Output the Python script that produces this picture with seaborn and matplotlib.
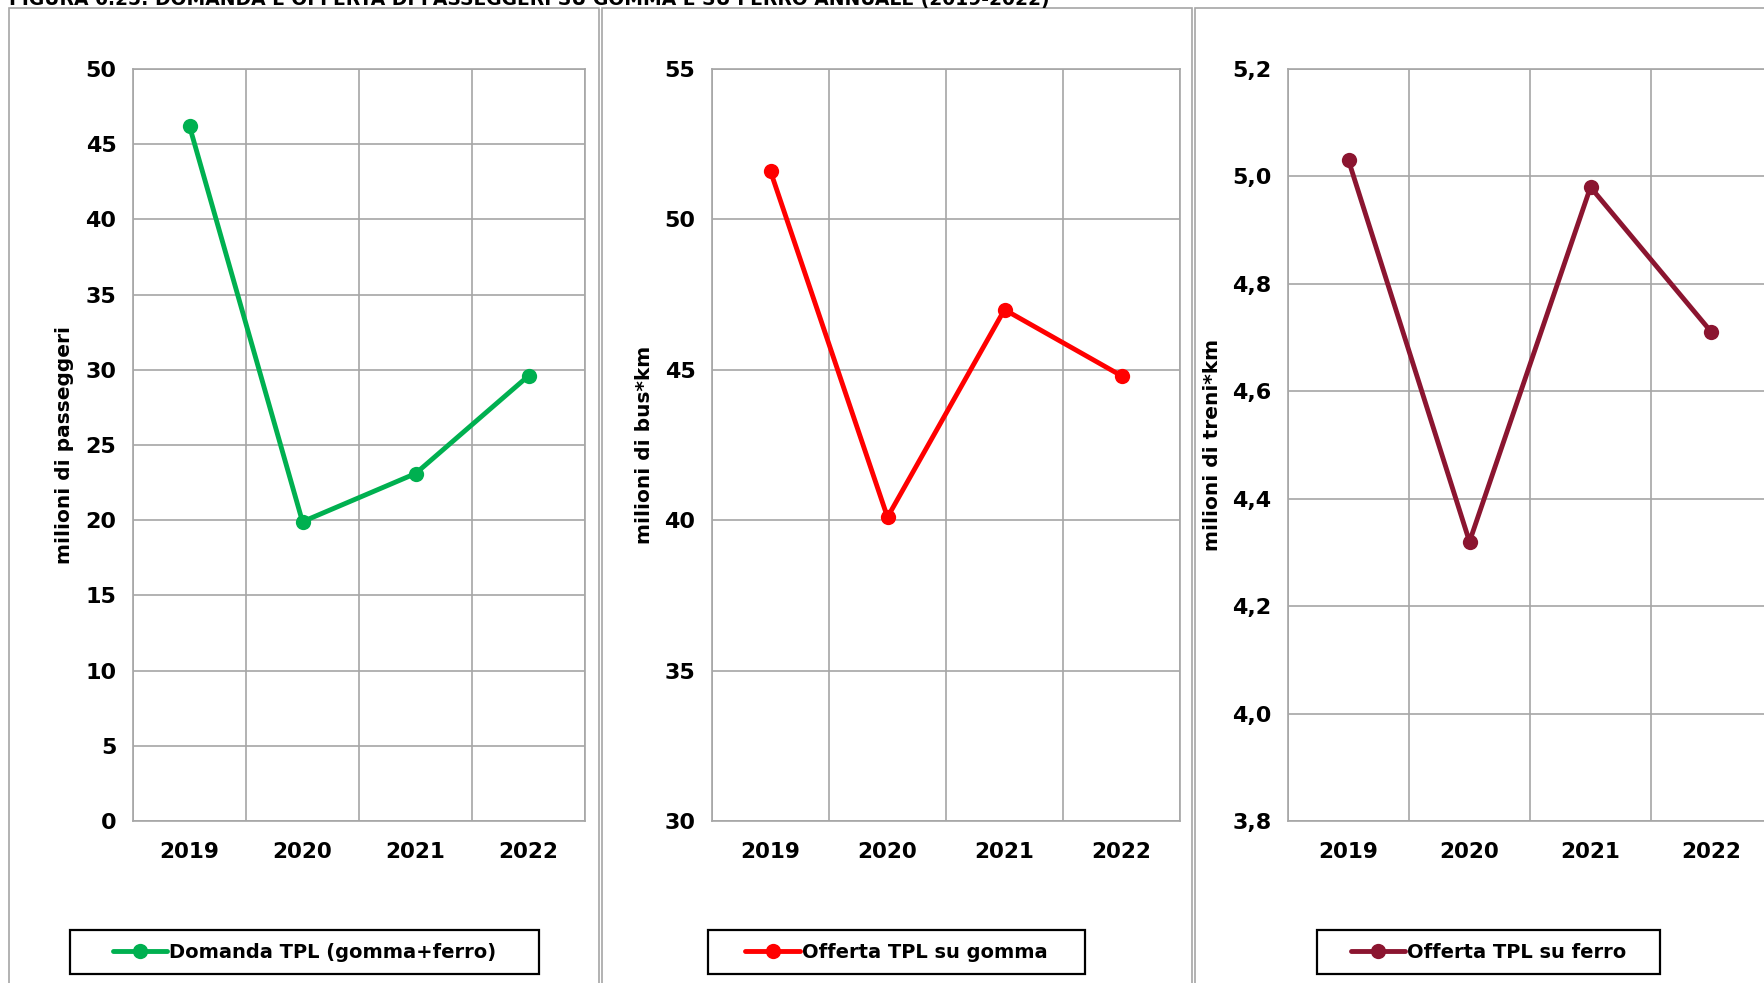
import matplotlib
matplotlib.use("Agg")
import seaborn as sns
import matplotlib.pyplot as plt
from matplotlib.patches import Rectangle
from matplotlib.ticker import FixedLocator, FuncFormatter, MultipleLocator

# dati
anni = ["2019", "2020", "2021", "2022"]
domanda = [46.2, 19.9, 23.1, 29.6]
offerta_gomma = [51.6, 40.1, 47.0, 44.8]
offerta_ferro = [5.03, 4.32, 4.98, 4.71]

etichette = ["Domanda TPL (gomma+ferro)", "Offerta TPL su gomma", "Offerta TPL su ferro"]
assi_y = ["milioni di passeggeri", "milioni di bus*km", "milioni di treni*km"]
titolo = "FIGURA 6.25: DOMANDA E OFFERTA DI PASSEGGERI SU GOMMA E SU FERRO ANNUALE (2019-2022)"

sns.set_style("white")
plt.rcParams['font.family'] = ['DejaVu Sans']
plt.rcParams['font.weight'] = 'bold'
plt.rcParams['text.color'] = 'black'

W, H = 1764, 983
fig = plt.figure(figsize=(W / 100, H / 100), dpi=100)

GRIGIO = '#A6A6A6'

pannelli = [
    dict(dati=domanda, colore='#00B050', ylim=(0, 50), passo=5, dec=False,
         ax=(133, 585), cornice=(9, 599), leg=(70, 539), ylab_x=65),
    dict(dati=offerta_gomma, colore='#FF0000', ylim=(30, 55), passo=5, dec=False,
         ax=(712, 1180), cornice=(602, 1192), leg=(708, 1085), ylab_x=645),
    dict(dati=offerta_ferro, colore='#8B1530', ylim=(3.8, 5.2), passo=0.2, dec=True,
         ax=(1288, 1772), cornice=(1195, 1780), leg=(1317, 1660), ylab_x=1212),
]

top_px, bot_px = 69, 821

for i, p in enumerate(pannelli):
    # cornice del pannello
    x0, x1 = p['cornice']
    fig.patches.append(Rectangle((x0 / W, -0.05), (x1 - x0) / W, 1.05 - 8 / H,
                                 transform=fig.transFigure, fill=False,
                                 edgecolor=GRIGIO, lw=1.2))

    l, r = p['ax']
    ax = fig.add_axes([l / W, 1 - bot_px / H, (r - l) / W, (bot_px - top_px) / H])
    sns.lineplot(x=anni, y=p['dati'], ax=ax, color=p['colore'], linewidth=3.5,
                 marker='o', markersize=11, markeredgewidth=0, label=etichette[i])

    ax.set_xlim(-0.5, 3.5)
    ax.set_ylim(*p['ylim'])
    ax.yaxis.set_major_locator(MultipleLocator(p['passo']))
    if p['dec']:
        ax.yaxis.set_major_formatter(FuncFormatter(lambda v, pos: f"{v:.1f}".replace('.', ',')))
    ax.xaxis.set_minor_locator(FixedLocator([-0.5, 0.5, 1.5, 2.5, 3.5]))

    ax.grid(True, axis='y', which='major', color=GRIGIO, lw=1.2)
    ax.grid(True, axis='x', which='minor', color=GRIGIO, lw=1.2)
    ax.grid(False, axis='x', which='major')
    for s in ax.spines.values():
        s.set_color(GRIGIO)
        s.set_linewidth(1.2)

    ax.tick_params(axis='y', which='major', direction='out', length=4, width=1.2,
                   color=GRIGIO, pad=8, labelsize=16, labelcolor='black')
    ax.tick_params(axis='x', which='major', length=0, pad=15, labelsize=15.5,
                   labelcolor='black')
    ax.tick_params(axis='x', which='minor', direction='out', length=4, width=1.2,
                   color=GRIGIO)
    for t in ax.get_xticklabels() + ax.get_yticklabels():
        t.set_fontweight('bold')

    ax.set_xlabel('')
    ax.set_ylabel('')
    fig.text(p['ylab_x'] / W, 1 - (top_px + bot_px) / 2 / H, assi_y[i], rotation=90,
             ha='center', va='center', fontsize=14.5, fontweight='bold')

    # legenda con riquadro nero
    handles, labels = ax.get_legend_handles_labels()
    ax.get_legend().remove()
    lx0, lx1 = p['leg']
    fig.patches.append(Rectangle((lx0 / W, 1 - 974 / H), (lx1 - lx0) / W, 44 / H,
                                 transform=fig.transFigure, fill=False,
                                 edgecolor='black', lw=1.6))
    fig.legend(handles, labels, loc='center',
               bbox_to_anchor=((lx0 + lx1) / 2 / W, 1 - 952 / H),
               frameon=False, handlelength=2.8, handletextpad=0.1,
               prop={'weight': 'bold', 'size': 14})

fig.text(9 / W, 1.0, titolo, ha='left', va='center', fontsize=13.5, fontweight='bold')

fig.savefig('out.png', dpi=100)
